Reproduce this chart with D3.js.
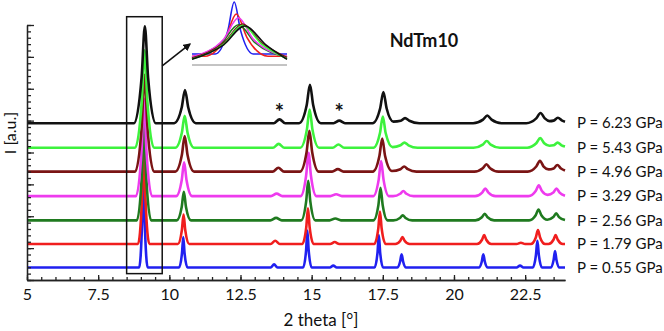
<!DOCTYPE html>
<html>
<head>
<meta charset="utf-8">
<script src="https://cdn.jsdelivr.net/npm/d3@7"></script>
<style>
  html, body { margin: 0; padding: 0; background: #fff; }
  svg { display: block; font-family: Lato, "Open Sans", sans-serif; }
</style>
</head>
<body>
<div id="chart"></div>
<script>
"use strict";
let chart_width = 664;
let chart_height = 331;
let margin = {top: 25, right: 99, bottom: 51, left: 27};

// tick labels on the 2 theta axis
let xTicks = [5, 7.5, 10, 12.5, 15, 17.5, 20, 22.5];
let xTickLabels = ["5", "7.5", "10", "12.5", "15", "17.5", "20", "22.5"];

// pressures, stacking offsets (a.u.) and colours, bottom trace first
let pressures = ["0.55", "1.79", "2.56", "3.29", "4.96", "5.43", "6.23"];
let offsets = [1.95, 5.65, 9.35, 13.15, 17.0, 20.75, 24.6];
let colours = ["#2020f0", "#f01e1e", "#1f7a1f", "#ee3bee", "#7a1414", "#3df23d", "#111111"];

// diffraction traces: [2theta, intensity above own baseline]
let p055 = [[5,0],
  [8.94,0],[9.045,7.3],[9.09,15.5],[9.135,7.3],[9.24,0],
  [10.34,0],[10.445,2.25],[10.49,4.8],[10.535,2.25],[10.64,0],
  [13.56,0],[13.68,0.5],[13.80,0],
  [14.70,0],[14.805,2.7],[14.85,5.8],[14.895,2.7],[15.00,0],
  [15.64,0],[15.76,0.3],[15.88,0],
  [17.21,0],[17.315,2.4],[17.36,5.1],[17.405,2.4],[17.51,0],
  [18.00,0],[18.11,1.0],[18.16,2.1],[18.21,1.0],[18.32,0],
  [20.87,0],[20.98,1.0],[21.03,2.1],[21.08,1.0],[21.19,0],
  [22.2,0],[22.32,0.3],[22.44,0],
  [22.77,0],[22.88,2.0],[22.93,4.2],[22.98,2.0],[23.09,0],
  [23.39,0],[23.50,1.2],[23.55,2.6],[23.60,1.2],[23.71,0],
  [23.9,0]];
let p179 = [[5,0],
  [8.90,0],[9.04,7.2],[9.10,15.4],[9.16,7.2],[9.30,0],
  [10.30,0],[10.44,2.15],[10.50,4.6],[10.56,2.15],[10.70,0],
  [13.56,0],[13.72,0.5],[13.88,0],
  [14.67,0],[14.81,2.6],[14.87,5.6],[14.93,2.6],[15.07,0],
  [15.65,0],[15.81,0.3],[15.97,0],
  [17.20,0],[17.34,2.4],[17.40,5.1],[17.46,2.4],[17.60,0],
  [17.94,0],[18.115,0.52],[18.19,1.1],[18.265,0.52],[18.44,0],
  [20.81,0],[20.985,0.66],[21.06,1.4],[21.135,0.66],[21.31,0],
  [22.2,0],[22.35,0.2],[22.5,0],
  [22.70,0],[22.875,1.03],[22.95,2.2],[23.025,1.03],[23.20,0],
  [23.32,0],[23.495,0.66],[23.57,1.4],[23.645,0.66],[23.82,0],
  [23.9,0]];
let p256 = [[5,0],
  [8.86,0],[9.035,7.1],[9.11,15.2],[9.185,7.1],[9.36,0],
  [10.26,0],[10.435,2.1],[10.51,4.5],[10.585,2.1],[10.76,0],
  [13.55,0],[13.75,0.4],[13.95,0],
  [14.63,0],[14.805,2.9],[14.88,6.2],[14.955,2.9],[15.13,0],
  [15.63,0],[15.83,0.3],[16.03,0],
  [17.17,0],[17.345,2.4],[17.42,5.1],[17.495,2.4],[17.67,0],
  [17.87,0],[18.10,0.38],[18.20,0.8],[18.30,0.38],[18.53,0],
  [20.75,0],[20.98,0.49],[21.08,1.05],[21.18,0.49],[21.41,0],
  [22.64,0],[22.87,0.8],[22.97,1.7],[23.07,0.8],[23.28,0.1],
  [23.49,0.52],[23.59,1.1],[23.69,0.52],[23.9,0.05]];
let p329 = [[5,0],
  [8.83,0],[9.025,7.2],[9.11,15.3],[9.195,7.2],[9.39,0],
  [10.24,0],[10.435,2.5],[10.52,5.3],[10.605,2.5],[10.80,0],
  [13.57,0],[13.77,0.4],[13.97,0],
  [14.61,0],[14.805,3.2],[14.89,6.8],[14.975,3.2],[15.17,0],
  [15.66,0],[15.86,0.3],[16.06,0],
  [17.16,0],[17.355,2.6],[17.44,5.5],[17.525,2.6],[17.72,0],
  [17.86,0],[18.11,0.38],[18.22,0.8],[18.33,0.38],[18.58,0],
  [20.74,0],[20.99,0.56],[21.10,1.2],[21.21,0.56],[21.46,0],
  [22.62,0],[22.87,0.8],[22.98,1.7],[23.09,0.8],[23.29,0.2],
  [23.49,0.56],[23.60,1.2],[23.71,0.56],[23.9,0.08]];
let p496 = [[5,0],
  [8.80,0],[9.03,7.1],[9.13,15.2],[9.23,7.1],[9.46,0],
  [10.21,0],[10.44,2.6],[10.54,5.6],[10.64,2.6],[10.87,0],
  [13.63,0],[13.83,0.6],[14.03,0],
  [14.59,0],[14.82,3.0],[14.92,6.4],[15.02,3.0],[15.25,0],
  [15.72,0],[15.92,0.4],[16.12,0],
  [17.15,0],[17.38,2.45],[17.48,5.2],[17.58,2.45],[17.82,0.1],
  [18.12,0.38],[18.25,0.8],[18.38,0.38],[18.68,0],
  [20.71,0],[21.01,0.54],[21.14,1.15],[21.27,0.54],[21.57,0],
  [22.59,0],[22.89,0.8],[23.02,1.7],[23.15,0.8],[23.33,0.35],
  [23.50,0.5],[23.63,1.05],[23.76,0.5],[23.9,0.18]];
let p543 = [[5,0],
  [8.80,0],[9.03,7.2],[9.13,15.3],[9.23,7.2],[9.46,0],
  [10.21,0],[10.44,2.35],[10.54,5.0],[10.64,2.35],[10.87,0],
  [13.64,0],[13.84,0.6],[14.04,0],
  [14.60,0],[14.83,2.8],[14.93,6.0],[15.03,2.8],[15.26,0],
  [15.74,0],[15.94,0.5],[16.14,0],
  [17.17,0],[17.40,2.3],[17.50,4.9],[17.60,2.3],[17.84,0.1],
  [18.12,0.38],[18.26,0.8],[18.40,0.38],[18.72,0],
  [20.69,0],[21.01,0.49],[21.15,1.05],[21.29,0.49],[21.61,0],
  [22.57,0],[22.89,0.7],[23.03,1.5],[23.17,0.7],[23.35,0.32],
  [23.50,0.38],[23.64,0.8],[23.78,0.38],[23.9,0.18]];
let p623 = [[5,0],
  [8.76,0],[9.025,7.1],[9.14,15.2],[9.255,7.1],[9.52,0],
  [10.17,0],[10.435,2.45],[10.55,5.2],[10.665,2.45],[10.93,0],
  [13.67,0],[13.87,0.6],[14.07,0],
  [14.56,0],[14.825,2.8],[14.94,6.0],[15.055,2.8],[15.32,0],
  [15.77,0],[15.97,0.4],[16.17,0],
  [17.14,0],[17.405,2.3],[17.52,4.9],[17.635,2.3],[17.87,0.25],
  [18.13,0.38],[18.28,0.8],[18.43,0.38],[18.78,0],
  [20.67,0],[21.02,0.56],[21.17,1.2],[21.32,0.56],[21.67,0],
  [22.54,0],[22.89,0.75],[23.04,1.6],[23.19,0.75],[23.36,0.32],
  [23.50,0.4],[23.65,0.85],[23.80,0.4],[23.9,0.22]];
let traces = [p055, p179, p256, p329, p496, p543, p623];

// inset: first reflection, normalised
let in055 = [[8.89,0.175],[9.00,0.175],[9.06,0.55],[9.09,1.0],[9.12,0.55],[9.18,0.175],[9.34,0.175]];
let in179 = [[8.89,0.14],[8.95,0.14],[9.05,0.44],[9.10,0.81],[9.15,0.44],[9.25,0.14],[9.34,0.14]];
let in256 = [[8.89,0.12],[9.03,0.35],[9.11,0.64],[9.19,0.35],[9.34,0.12]];
let in329 = [[8.89,0.13],[9.04,0.41],[9.11,0.75],[9.18,0.41],[9.34,0.13]];
let in496 = [[8.89,0.11],[9.04,0.35],[9.13,0.65],[9.22,0.35],[9.34,0.12]];
let in543 = [[8.89,0.095],[9.04,0.33],[9.13,0.63],[9.22,0.33],[9.34,0.1]];
let in623 = [[8.89,0.09],[9.04,0.32],[9.14,0.62],[9.24,0.32],[9.34,0.09]];
let insetTraces = [in055, in179, in256, in329, in496, in543, in623];

// annotations in data units
let boxX = [8.5, 9.75];
let boxY = [1.0, 41.3];
let arrowFrom = [9.75, 33.6];
let arrowTo = [10.72, 37.0];
let stars = [[13.87, 25.1], [15.97, 25.1]];

let x = d3.scaleLinear().domain([5, 23.9])
  .range([margin.left, chart_width - margin.right]);
let y = d3.scaleLinear().domain([0, 40])
  .range([chart_height - margin.bottom, margin.top]);

// inset scales
let ix = d3.scaleLinear().domain([8.89, 9.34]).range([192, 287]);
let iy = d3.scaleLinear().domain([0, 1]).range([65, 2]);

let svg = d3.select("#chart").append("svg")
  .attr("width", chart_width)
  .attr("height", chart_height);

// traces, bottom first so the upper ones sit on top
traces.forEach(function(d, i) {
  let line = d3.line()
    .x(function(p) { return x(p[0]); })
    .y(function(p) { return y(p[1] + offsets[i]); })
    .curve(d3.curveMonotoneX);
  svg.append("path")
    .datum(d)
    .attr("d", line)
    .attr("fill", "none")
    .attr("stroke", colours[i])
    .attr("stroke-width", 2.6)
    .attr("stroke-linejoin", "round");
});

// pressure labels
svg.selectAll(".plabel")
  .data(pressures)
  .enter()
  .append("text")
  .attr("class", "plabel")
  .attr("x", chart_width - margin.right + 12)
  .attr("y", function(d, i) { return y(offsets[i]); })
  .attr("dy", "0.35em")
  .style("font-size", "15px")
  .attr("fill", "#111")
  .text(function(d) { return "P = " + d + " GPa"; });

// axes (minor and major ticks in their own groups)
svg.append("g")
  .attr("class", "axis")
  .attr("transform", "translate(0," + y(0) + ")")
  .call(d3.axisBottom(x).tickValues(d3.range(5, 24, 0.5)).tickSize(-3).tickSizeOuter(0).tickFormat(""));
svg.append("g")
  .attr("class", "axis")
  .attr("transform", "translate(0," + y(0) + ")")
  .call(d3.axisBottom(x).tickValues(xTicks).tickSize(-5).tickSizeOuter(0).tickPadding(9)
    .tickFormat(function(d, i) { return xTickLabels[i]; }));

svg.append("g")
  .attr("class", "axis")
  .attr("transform", "translate(" + x(5) + ",0)")
  .call(d3.axisRight(y).tickValues(d3.range(0, 41, 1)).tickSize(4).tickSizeOuter(0).tickFormat(""));
svg.append("g")
  .attr("class", "axis")
  .attr("transform", "translate(" + x(5) + ",0)")
  .call(d3.axisRight(y).tickValues(d3.range(0, 41, 5)).tickSize(7).tickSizeOuter(0).tickFormat(""));

svg.selectAll(".axis path, .axis line")
  .attr("stroke", "#222")
  .attr("stroke-width", 1.3);
svg.selectAll(".axis text")
  .style("font-family", "Lato, 'Open Sans', sans-serif")
  .style("font-size", "16px")
  .attr("fill", "#111");

// axis titles
svg.append("text")
  .attr("x", 321)
  .attr("y", chart_height - 5)
  .attr("text-anchor", "middle")
  .style("font-size", "17px")
  .attr("fill", "#111")
  .text("2 theta [°]");

svg.append("text")
  .attr("transform", "translate(16,133) rotate(-90)")
  .attr("text-anchor", "middle")
  .style("font-size", "16px")
  .attr("fill", "#111")
  .text("I [a.u.]");

// sample name
svg.append("text")
  .attr("x", 424)
  .attr("y", 47)
  .attr("text-anchor", "middle")
  .style("font-size", "18px")
  .style("font-weight", "bold")
  .attr("fill", "#111")
  .text("NdTm10");

// impurity markers
svg.selectAll(".star")
  .data(stars)
  .enter()
  .append("text")
  .attr("class", "star")
  .attr("x", function(d) { return x(d[0]); })
  .attr("y", function(d) { return y(d[1]); })
  .attr("text-anchor", "middle")
  .style("font-size", "22px")
  .style("font-weight", "bold")
  .attr("fill", "#111")
  .text("*");

// box around first reflection
svg.append("rect")
  .attr("x", x(boxX[0]))
  .attr("y", y(boxY[1]))
  .attr("width", x(boxX[1]) - x(boxX[0]))
  .attr("height", y(boxY[0]) - y(boxY[1]))
  .attr("fill", "none")
  .attr("stroke", "#111")
  .attr("stroke-width", 1.5);

// arrow to inset
svg.append("defs").append("marker")
  .attr("id", "head")
  .attr("viewBox", "0 0 10 10")
  .attr("refX", 8).attr("refY", 5)
  .attr("markerWidth", 5).attr("markerHeight", 5)
  .attr("orient", "auto")
  .append("path")
  .attr("d", "M0,0L10,5L0,10z")
  .attr("fill", "#111");

svg.append("line")
  .attr("x1", x(arrowFrom[0])).attr("y1", y(arrowFrom[1]))
  .attr("x2", x(arrowTo[0])).attr("y2", y(arrowTo[1]))
  .attr("stroke", "#111")
  .attr("stroke-width", 1.6)
  .attr("marker-end", "url(#head)");

// inset
svg.append("line")
  .attr("x1", ix(8.89)).attr("x2", ix(9.34))
  .attr("y1", iy(0)).attr("y2", iy(0))
  .attr("stroke", "#888")
  .attr("stroke-width", 1);

insetTraces.forEach(function(d, i) {
  let line = d3.line()
    .x(function(p) { return ix(p[0]); })
    .y(function(p) { return iy(p[1]); })
    .curve(d3.curveMonotoneX);
  svg.append("path")
    .datum(d)
    .attr("d", line)
    .attr("fill", "none")
    .attr("stroke", colours[i])
    .attr("stroke-width", 1.6);
});
</script>
</body>
</html>
